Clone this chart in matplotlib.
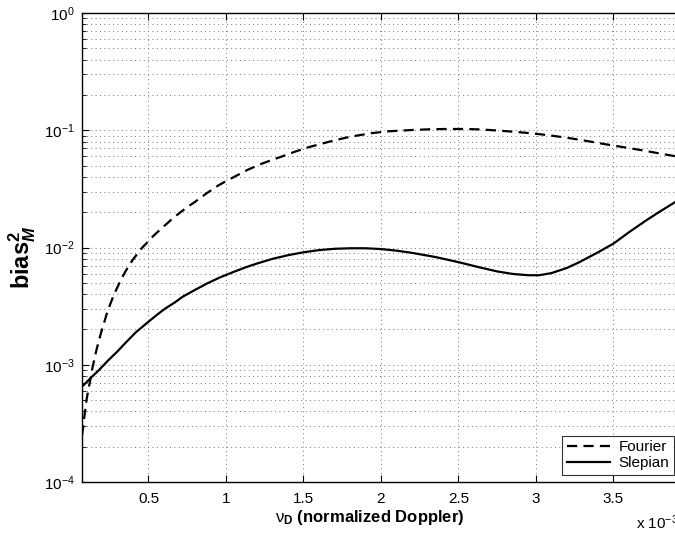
import matplotlib
matplotlib.use("Agg")
import matplotlib.pyplot as plt
from matplotlib.ticker import LogLocator, NullFormatter, FixedLocator

plt.rcParams['font.family'] = ['Liberation Sans', 'DejaVu Sans']
plt.rcParams['mathtext.fontset'] = 'custom'
plt.rcParams['mathtext.rm'] = 'Liberation Sans'
plt.rcParams['mathtext.it'] = 'Liberation Sans:italic'
plt.rcParams['mathtext.bf'] = 'Liberation Sans:bold'
plt.rcParams['mathtext.bfit'] = 'Liberation Sans:italic:bold'

# normalized Doppler (units of 1e-3) and squared bias, Fourier window
fourier_nu = [0.071, 0.078, 0.085, 0.092, 0.10, 0.11, 0.125, 0.137, 0.15,
              0.165, 0.18, 0.195, 0.21, 0.23, 0.25, 0.275, 0.30, 0.325, 0.35,
              0.375, 0.40, 0.43, 0.46, 0.50, 0.53, 0.565, 0.60, 0.65, 0.70,
              0.75, 0.80, 0.875, 0.95, 1.00, 1.06, 1.14, 1.23, 1.30, 1.36,
              1.45, 1.53, 1.62, 1.70, 1.80, 1.94, 2.05, 2.20, 2.32, 2.42,
              2.55, 2.65, 2.75, 2.86, 2.98, 3.10, 3.22, 3.34, 3.46, 3.57,
              3.67, 3.78, 3.90]
fourier_bias = [2.5e-4, 2.9e-4, 3.5e-4, 4.1e-4, 5.0e-4, 5.9e-4, 7.5e-4,
                9.2e-4, 1.1e-3, 1.35e-3, 1.6e-3, 1.9e-3, 2.2e-3, 2.7e-3,
                3.2e-3, 3.9e-3, 4.6e-3, 5.4e-3, 6.2e-3, 7.05e-3, 7.9e-3,
                8.9e-3, 0.0100, 0.0113, 0.0125, 0.0138, 0.0152, 0.0174, 0.0197,
                0.0221, 0.0245, 0.0290, 0.0338, 0.0368, 0.0405, 0.0460, 0.0518,
                0.0560, 0.0597, 0.0660, 0.0715, 0.0770, 0.0820, 0.0880, 0.0945,
                0.0980, 0.1005, 0.1020, 0.1025, 0.1025, 0.1015, 0.0995, 0.0970,
                0.0940, 0.0900, 0.0855, 0.0805, 0.0755, 0.0715, 0.0680, 0.0640,
                0.0600]

# Slepian window
slepian_nu = [0.071, 0.10, 0.135, 0.18, 0.243, 0.30, 0.35, 0.42, 0.50, 0.56,
              0.61, 0.67, 0.72, 0.80, 0.88, 0.96, 1.05, 1.13, 1.20, 1.30,
              1.40, 1.50, 1.60, 1.70, 1.80, 1.90, 2.00, 2.10, 2.20, 2.35,
              2.50, 2.62, 2.75, 2.85, 2.95, 3.02, 3.10, 3.20, 3.28, 3.40,
              3.50, 3.60, 3.71, 3.80, 3.90]
slepian_bias = [6.5e-4, 7.1e-4, 7.9e-4, 9.0e-4, 1.1e-3, 1.3e-3, 1.53e-3,
                1.9e-3, 2.33e-3, 2.7e-3, 3.03e-3, 3.4e-3, 3.8e-3, 4.35e-3,
                4.95e-3, 5.55e-3, 6.2e-3, 6.8e-3, 7.3e-3, 8.0e-3, 8.6e-3,
                9.1e-3, 9.5e-3, 9.75e-3, 9.85e-3, 9.85e-3, 9.7e-3, 9.4e-3,
                9.0e-3, 8.3e-3, 7.5e-3, 6.85e-3, 6.25e-3, 5.95e-3, 5.8e-3,
                5.8e-3, 6.05e-3, 6.7e-3, 7.5e-3, 9.1e-3, 0.0108, 0.0135,
                0.0170, 0.0203, 0.0245]

x_ticks = [0.5, 1, 1.5, 2, 2.5, 3, 3.5]
x_tick_labels = ['0.5', '1', '1.5', '2', '2.5', '3', '3.5']

fig = plt.figure(figsize=(6.75, 5.36), dpi=100)
ax = fig.add_axes([82 / 675, 54 / 536, (691 - 82) / 675, 469 / 536])

ax.plot(fourier_nu, fourier_bias, color='black', lw=1.6, dashes=(4.6, 2.8),
        label='Fourier')
ax.plot(slepian_nu, slepian_bias, color='black', lw=1.6, label='Slepian')

ax.set_yscale('log')
ax.set_xlim(0.071, 4.0)
ax.set_ylim(1e-4, 1)
ax.xaxis.set_major_locator(FixedLocator(x_ticks))
ax.set_xticklabels(x_tick_labels)
ax.yaxis.set_major_locator(LogLocator(base=10, numticks=10))
ax.yaxis.set_minor_locator(LogLocator(base=10, subs=range(2, 10), numticks=50))
ax.yaxis.set_minor_formatter(NullFormatter())

ax.tick_params(which='both', direction='in', top=True, right=True,
               labelsize=11)
ax.tick_params(which='major', length=5, width=0.8)
ax.tick_params(which='minor', length=3, width=0.6)
ax.tick_params(axis='y', pad=5)
ax.tick_params(axis='x', pad=7)
for sp in ax.spines.values():
    sp.set_linewidth(1.0)

grid_style = dict(color='#777777', linestyle=(0, (1, 3.5)), linewidth=0.7)
ax.grid(True, which='major', axis='both', **grid_style)
ax.grid(True, which='minor', axis='y', **grid_style)

ax.set_xlabel(r'$\mathrm{\nu}_{\mathbf{D}}$ (normalized Doppler)', fontsize=12,
              fontweight='bold')
ax.xaxis.set_label_coords(0.473, -0.055)
ax.set_ylabel(r'$\mathbf{bias}^{\mathbf{2}}_{\mathbfit{M}}$', fontsize=17)
ax.yaxis.set_label_coords(-0.073, 0.48)

fig.text(636 / 675, 1 - 523 / 536, r'x 10$^{-3}$', fontsize=11, va='center')

leg = ax.legend(loc='lower right', bbox_to_anchor=(674 / 675, 61 / 536),
                bbox_transform=fig.transFigure, fontsize=11, frameon=True,
                fancybox=False, edgecolor='black', handlelength=2.8,
                borderpad=0.3, labelspacing=0.15, handletextpad=0.6,
                borderaxespad=0)
leg.get_frame().set_linewidth(0.8)

fig.savefig('out.png', dpi=100)
